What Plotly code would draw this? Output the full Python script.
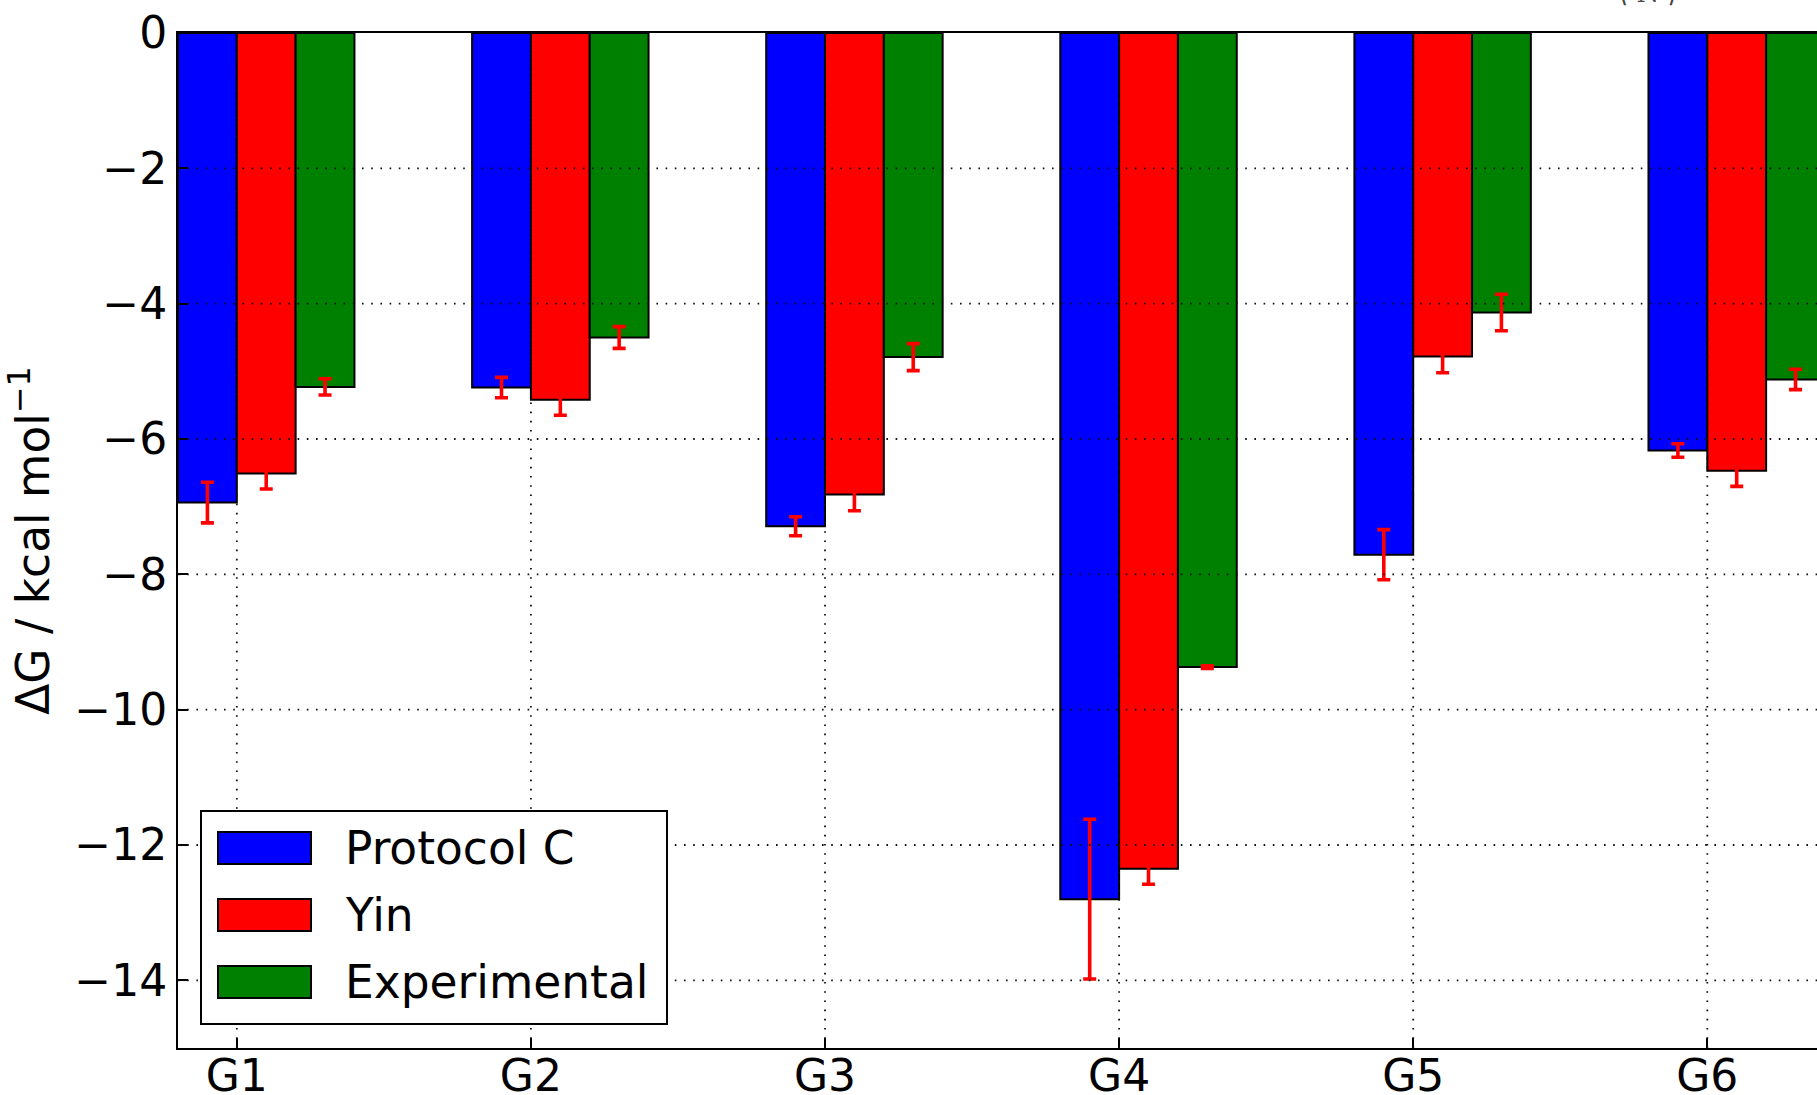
import plotly.graph_objects as go

# Binding free energies per guest (kcal/mol) with error bars
groups = ["G1", "G2", "G3", "G4", "G5", "G6"]

protocol_c = [-6.94, -5.24, -7.29, -12.80, -7.71, -6.17]
protocol_c_err = [0.30, 0.15, 0.14, 1.18, 0.37, 0.10]

yin = [-6.51, -5.42, -6.82, -12.35, -4.78, -6.47]
yin_err = [0.23, 0.23, 0.24, 0.23, 0.24, 0.23]

experimental = [-5.23, -4.50, -4.79, -9.37, -4.13, -5.12]
experimental_err = [0.12, 0.16, 0.20, 0.02, 0.27, 0.15]

series_names = ["Protocol C", "Yin", "Experimental"]
series_colors = ["#0000FF", "#FF0000", "#008000"]
y_ticks = [0, -2, -4, -6, -8, -10, -12, -14]

# Page and plot-area geometry (pixels)
W, H = 1817, 1095
PLOT_L, PLOT_T, PLOT_R, PLOT_B = 178, 33, 1817, 1048
FONT = "DejaVu Sans"
FS = 44
FS_TEXT = 45.5


def px_x(p):
    return (p - PLOT_L) / (PLOT_R - PLOT_L)


def px_y(p):
    return (PLOT_B - p) / (PLOT_B - PLOT_T)


fig = go.Figure()

values = [protocol_c, yin, experimental]
errors = [protocol_c_err, yin_err, experimental_err]
offsets = [-0.2, 0.0, 0.2]

for name, vals, errs, color, off in zip(series_names, values, errors, series_colors, offsets):
    fig.add_trace(go.Bar(
        x=groups, y=vals, name=name,
        offset=off, width=0.2,
        marker=dict(color=color, line=dict(color="black", width=2)),
        error_y=dict(type="data", array=errs, color="#FF0000", thickness=3.6, width=6.5),
        showlegend=False,
    ))

# Dotted grid drawn over the bars
grid_line = dict(color="#111111", width=1.8, dash="1.6px,7.6px")
shapes = []
for t in y_ticks[1:]:
    shapes.append(dict(type="line", xref="paper", x0=0, x1=1, yref="y", y0=t, y1=t,
                       line=grid_line, layer="above"))
for g in groups:
    shapes.append(dict(type="line", xref="x", x0=g, x1=g, yref="paper", y0=0, y1=1,
                       line=grid_line, layer="above"))

# Legend box with wide swatches
shapes.append(dict(type="rect", xref="paper", yref="paper",
                   x0=px_x(201), x1=px_x(667), y0=px_y(1024), y1=px_y(811),
                   fillcolor="white", line=dict(color="black", width=2), layer="above"))
annotations = []
row_tops = [832, 899, 966]
for name, color, top in zip(series_names, series_colors, row_tops):
    shapes.append(dict(type="rect", xref="paper", yref="paper",
                       x0=px_x(218), x1=px_x(311), y0=px_y(top + 32), y1=px_y(top),
                       fillcolor=color, line=dict(color="black", width=2), layer="above"))
    annotations.append(dict(xref="paper", yref="paper", x=px_x(343), y=px_y(top + 16),
                            xanchor="left", yanchor="middle", text=name, showarrow=False,
                            font=dict(family=FONT, size=FS_TEXT, color="black")))

# Label sitting just above the page top
annotations.append(dict(xref="paper", yref="paper", x=px_x(1648), y=1, yshift=23,
                        xanchor="center", yanchor="bottom", text="⟨ N ⟩", showarrow=False,
                        font=dict(family="DejaVu Serif", size=26, color="#444444")))

fig.update_layout(
    width=W, height=H,
    margin=dict(l=PLOT_L, r=W - PLOT_R, t=PLOT_T, b=H - PLOT_B, pad=0, autoexpand=False),
    paper_bgcolor="white", plot_bgcolor="white",
    barmode="overlay",
    font=dict(family=FONT, size=FS, color="black"),
    shapes=shapes, annotations=annotations,
    showlegend=False,
)

fig.update_xaxes(
    type="category", range=[-0.2, 5.373], automargin=False,
    showgrid=False, zeroline=False,
    showline=True, linecolor="black", linewidth=2, mirror=True,
    ticks="inside", ticklen=10, tickwidth=1.5, tickcolor="black",
    tickfont=dict(family=FONT, size=FS, color="black"),
    ticklabelstandoff=-12,
    layer="above traces",
)
fig.update_yaxes(
    range=[-15, 0], tickvals=y_ticks, automargin=False,
    showgrid=False, zeroline=False,
    showline=True, linecolor="black", linewidth=2, mirror=False,
    ticks="inside", ticklen=10, tickwidth=1.5, tickcolor="black",
    tickfont=dict(family=FONT, size=FS, color="black"),
    title=dict(text="ΔG / kcal mol<sup>−1</sup>", font=dict(family=FONT, size=FS_TEXT, color="black"),
               standoff=12),
    layer="above traces",
)

fig.write_html("out.html")
